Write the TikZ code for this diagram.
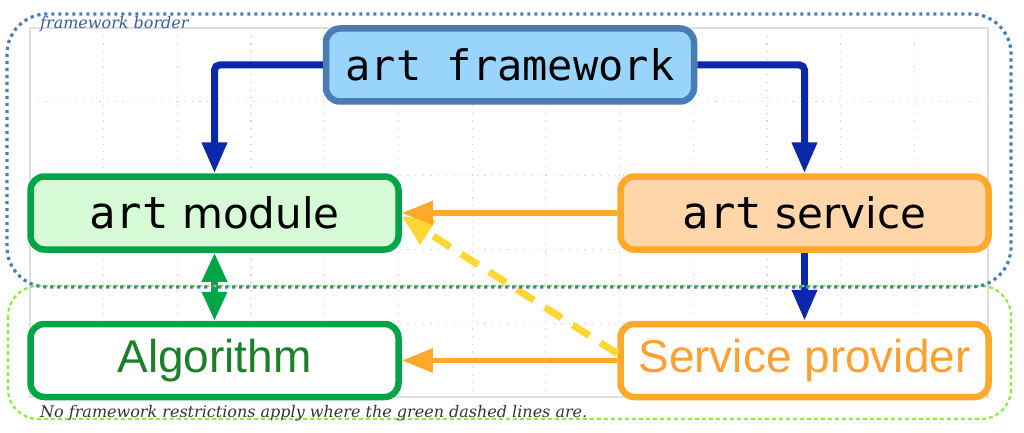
\documentclass[tikz,border=0pt]{standalone}
\usepackage{fontspec}
\usepackage{xcolor}
\usetikzlibrary{arrows.meta,positioning}
\newfontfamily\artmono{DejaVu Sans Mono}
\newfontfamily\artsans{DejaVu Sans}
\newfontfamily\artarial{Liberation Sans}
\newfontfamily\artnote{DejaVu Serif}
\definecolor{afblue}{RGB}{10,40,170}
\definecolor{affill}{RGB}{152,212,252}
\definecolor{afedge}{RGB}{72,124,178}
\definecolor{amfill}{RGB}{214,250,214}
\definecolor{amedge}{RGB}{0,165,72}
\definecolor{asfill}{RGB}{255,213,170}
\definecolor{asedge}{RGB}{255,168,42}
\definecolor{algtext}{RGB}{28,128,42}
\definecolor{sptext}{RGB}{255,160,48}
\definecolor{spyel}{RGB}{255,214,50}
\definecolor{fwdot}{RGB}{72,126,182}
\definecolor{freedash}{RGB}{140,238,60}
\definecolor{fwlabel}{RGB}{58,92,150}
\newcommand{\artword}{{\artmono\fontsize{44}{50}\selectfont art}}
\tikzset{
  artbox/.style={
    draw, line width=6.5pt, rounded corners=14pt, align=center,
    minimum width=368pt, minimum height=73pt, inner sep=0pt
  },
  fwbox/.style={artbox, draw=afedge, fill=affill, font=\artmono\fontsize{42}{50}\selectfont},
  modbox/.style={artbox, draw=amedge, fill=amfill, font=\artsans\fontsize{42}{48}\selectfont},
  svcbox/.style={artbox, draw=asedge, fill=asfill, font=\artsans\fontsize{42}{48}\selectfont},
  algbox/.style={artbox, draw=amedge, fill=white, text=algtext, font=\artarial\fontsize{46}{52}\selectfont},
  provbox/.style={artbox, draw=asedge, fill=white, text=sptext, font=\artarial\fontsize{46}{52}\selectfont},
  ctlarr/.style={-{Triangle[length=31pt,width=24pt]}, draw=afblue, line width=7pt, rounded corners=5pt},
  usearr/.style={-{Triangle[length=31pt,width=23pt]}, draw=asedge, line width=5.5pt},
  linkarr/.style={{Triangle[length=29pt,width=24pt]}-{Triangle[length=29pt,width=24pt]}, draw=amedge, line width=6.5pt},
  yelarr/.style={-{Triangle[length=31pt,width=27pt]}, draw=spyel, line width=7pt, dash pattern=on 20pt off 13pt},
  gridline/.style={draw=gray!35, line width=1.2pt, dash pattern=on 1.2pt off 6.5pt},
  fwframe/.style={draw=fwdot, line width=3.2pt, dash pattern=on 3.2pt off 3.8pt, rounded corners=40pt},
  freeframe/.style={draw=freedash, line width=2.2pt, dash pattern=on 4pt off 3pt, rounded corners=30pt},
  note/.style={font=\artnote\itshape\fontsize{16}{19}\selectfont, inner sep=0pt}
}
\begin{document}
\begin{tikzpicture}[x=1pt, y=-1pt]
  \useasboundingbox (0,0) rectangle (1024,433);
  % grid behind
  \draw[gray!25, line width=1.5pt] (30,28) rectangle (988,397);
  \foreach \i in {1,...,12}
    \draw[gridline] ({30+73.69*\i},28) -- ++(0,369);
  \foreach \j in {1,...,4}
    \draw[gridline] (30,{28+73.8*\j}) -- ++(958,0);
  % boxes
  \node[fwbox] (fw) at (510,65) {art framework};
  \node[modbox] (mod) at (214.5,213) {\artword\ module};
  \node[svcbox] (svc) at (804.5,213) {\artword\ service};
  \node[algbox] (alg) at (214.5,360.5) {Algorithm};
  \node[provbox] (prov) at (804.5,360.5) {Service provider};
  % connectors
  \draw[ctlarr] (fw.west) -| (mod.north);
  \draw[ctlarr] (fw.east) -| (svc.north);
  \draw[ctlarr] (svc.south) -- (prov.north);
  \draw[linkarr] (mod.south) -- (alg.north);
  \draw[yelarr] ([yshift=7pt]prov.west) -- ([yshift=-3pt]mod.east);
  \draw[usearr] (svc.west) -- (mod.east);
  \draw[usearr] (prov.west) -- (alg.east);
  % borders
  \draw[freeframe] (8,286) rectangle (1011,419);
  \draw[fwframe] (7,14) rectangle (1011,287);
  \node[note, text=fwlabel, anchor=base west] (fwnote) at (40,29) {framework border};
  \node[note, text=black!80, anchor=base west] (freenote) at (40,417)
    {No framework restrictions apply where the green dashed lines are.};
\end{tikzpicture}
\end{document}
